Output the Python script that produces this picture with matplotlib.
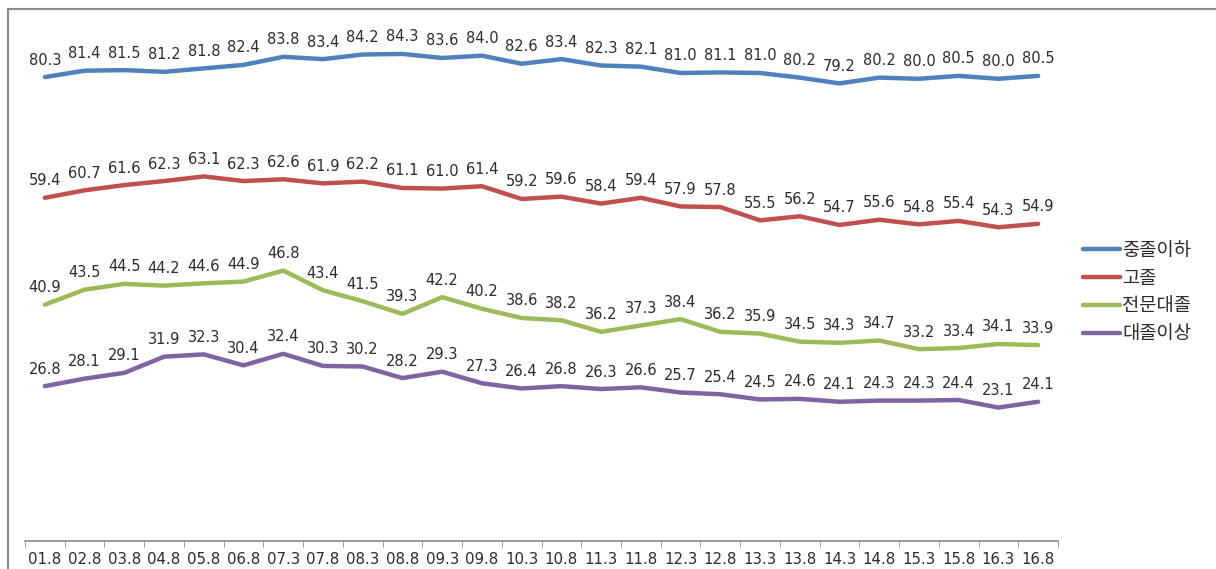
import numpy as np
import matplotlib.pyplot as plt
from matplotlib.patches import Rectangle

plt.rcParams['font.family'] = ['DejaVu Sans', 'Noto Sans CJK KR']
plt.rcParams['axes.unicode_minus'] = False

# 조사 시점
periods = ['01.8', '02.8', '03.8', '04.8', '05.8', '06.8', '07.3', '07.8', '08.3',
           '08.8', '09.3', '09.8', '10.3', '10.8', '11.3', '11.8', '12.3', '12.8',
           '13.3', '13.8', '14.3', '14.8', '15.3', '15.8', '16.3', '16.8']

middle = [80.3, 81.4, 81.5, 81.2, 81.8, 82.4, 83.8, 83.4, 84.2, 84.3, 83.6, 84.0, 82.6,
          83.4, 82.3, 82.1, 81.0, 81.1, 81.0, 80.2, 79.2, 80.2, 80.0, 80.5, 80.0, 80.5]
high = [59.4, 60.7, 61.6, 62.3, 63.1, 62.3, 62.6, 61.9, 62.2, 61.1, 61.0, 61.4, 59.2,
        59.6, 58.4, 59.4, 57.9, 57.8, 55.5, 56.2, 54.7, 55.6, 54.8, 55.4, 54.3, 54.9]
college = [40.9, 43.5, 44.5, 44.2, 44.6, 44.9, 46.8, 43.4, 41.5, 39.3, 42.2, 40.2, 38.6,
           38.2, 36.2, 37.3, 38.4, 36.2, 35.9, 34.5, 34.3, 34.7, 33.2, 33.4, 34.1, 33.9]
univ = [26.8, 28.1, 29.1, 31.9, 32.3, 30.4, 32.4, 30.3, 30.2, 28.2, 29.3, 27.3, 26.4,
        26.8, 26.3, 26.6, 25.7, 25.4, 24.5, 24.6, 24.1, 24.3, 24.3, 24.4, 23.1, 24.1]

names = ['중졸이하', '고졸', '전문대졸', '대졸이상']
colors = ['#4F81BD', '#C0504D', '#9BBB59', '#8064A2']

W, H = 1216, 569
fig = plt.figure(figsize=(W / 100, H / 100), dpi=100)
ax = fig.add_axes([25 / W, (H - 541) / H, 1033 / W, 520 / H])

# 바깥 테두리
fig.patches.append(Rectangle((8 / W, -0.1), 1.2, 1 - 9 / H + 0.1, transform=fig.transFigure,
                             fill=False, edgecolor='#8a8a8a', linewidth=1.5))

x = np.arange(len(periods))
for vals, name, c in zip([middle, high, college, univ], names, colors):
    ax.plot(x, vals, color=c, linewidth=3.2, label=name, solid_capstyle='round')
    for xi, v in zip(x, vals):
        ax.annotate(f'{v:.1f}', (xi, v), xytext=(0, 9), textcoords='offset points',
                    ha='center', va='baseline', fontsize=10.5, color='#2b2b2b')

ax.set_xlim(-0.5, len(periods) - 0.5)
ax.set_ylim(0, 90)
ax.set_xticks(x)
ax.set_xticklabels(periods, fontsize=10.8, color='#2b2b2b')
ax.set_xticks(np.arange(-0.5, len(periods)), minor=True)
ax.tick_params(axis='x', which='major', length=0, pad=8)
ax.tick_params(axis='x', which='minor', length=4, color='#8a8a8a', direction='out')
ax.set_yticks([])
for s in ['top', 'right', 'left']:
    ax.spines[s].set_visible(False)
ax.spines['bottom'].set_color('#8a8a8a')
ax.spines['bottom'].set_linewidth(1.2)

leg = ax.legend(loc='center left', bbox_to_anchor=(1066 / W, (H - 292) / H),
                bbox_transform=fig.transFigure, frameon=False,
                prop={'family': ['Noto Sans CJK KR'], 'size': 13.5},
                handlelength=2.0, handletextpad=0.1, labelspacing=0.36)
for t in leg.get_texts():
    t.set_color('#2b2b2b')

fig.savefig('out.png', dpi=100)
